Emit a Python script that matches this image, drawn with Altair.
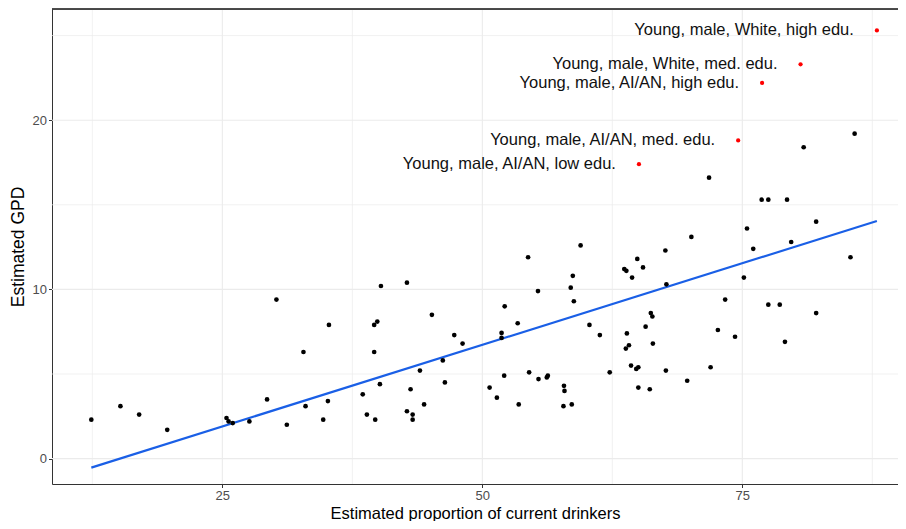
import altair as alt
import pandas as pd

# ---- data ----
black_x = [12.4, 15.2, 17.0, 19.7, 25.4, 25.6, 26.0, 27.6, 29.3, 30.2,
           31.2, 32.8, 33.0, 34.7, 35.15, 35.25, 38.5, 38.9, 39.6, 39.6,
           39.7, 39.9, 40.15, 40.25, 42.75, 42.75, 43.1, 43.3, 43.3, 44.0,
           44.4, 45.15, 46.2, 46.4, 47.3, 48.1, 50.7, 51.4, 51.85, 51.85,
           52.1, 52.15, 53.4, 53.5, 54.4, 54.5, 55.35, 55.4, 56.2, 56.3,
           57.8, 57.85, 57.9, 58.5, 58.6, 58.7, 58.8, 59.45, 60.3, 61.3,
           62.25, 63.65, 63.85, 63.9, 63.8, 64.1, 64.3, 64.4, 64.8, 65.0,
           65.0, 64.9, 65.45, 65.7, 66.1, 66.2, 66.35, 66.4, 67.6, 67.65,
           67.7, 69.7, 70.1, 71.8, 71.95, 72.65, 73.35, 74.3, 75.15, 75.45,
           76.05, 76.86, 77.5, 77.5, 78.6, 79.1, 79.3, 79.7, 80.9, 82.1,
           82.1, 85.4, 85.8]
black_y = [2.3, 3.1, 2.6, 1.7, 2.4, 2.2, 2.1, 2.2, 3.5, 9.4,
           2.0, 6.3, 3.1, 2.3, 3.4, 7.9, 3.8, 2.6, 6.3, 7.9,
           2.3, 8.1, 4.4, 10.2, 10.4, 2.8, 4.1, 2.6, 2.3, 5.2,
           3.2, 8.5, 5.8, 4.5, 7.3, 6.8, 4.2, 3.6, 7.43, 7.13,
           4.9, 9.0, 8.0, 3.2, 11.9, 5.1, 9.9, 4.7, 4.8, 4.9,
           3.1, 4.3, 4.0, 10.1, 3.2, 10.8, 9.3, 12.6, 7.9, 7.3,
           5.1, 11.2, 11.1, 7.4, 6.5, 6.7, 5.5, 10.7, 5.3, 5.4,
           4.2, 11.8, 11.3, 7.8, 4.1, 8.6, 8.4, 6.8, 12.3, 5.2,
           10.3, 4.6, 13.1, 16.6, 5.4, 7.6, 9.4, 7.2, 10.7, 13.6,
           12.4, 15.3, 15.3, 9.1, 9.1, 6.9, 15.3, 12.8, 18.4, 14.0,
           8.6, 11.9, 19.2]

red_x = [87.94, 80.6, 76.9, 74.6, 65.06]
red_y = [25.3, 23.3, 22.2, 18.8, 17.4]
red_labels = ["Young, male, White, high edu.",
              "Young, male, White, med. edu.",
              "Young, male, AI/AN, high edu.",
              "Young, male, AI/AN, med. edu.",
              "Young, male, AI/AN, low edu."]

trend_x = [12.4, 87.94]
trend_y = [-0.53, 14.04]

x_major = [25, 50, 75]
x_minor = [12.5, 37.5, 62.5, 87.5]
y_major = [0, 10, 20]
y_minor = [5, 15, 25]

x_domain = [8.62, 89.97]
y_domain = [-1.5, 26.57]

FONT = "Liberation Sans"
PLOT_W = 846
PLOT_H = 475

black_df = pd.DataFrame({"x": black_x, "y": black_y})
red_df = pd.DataFrame({"x": red_x, "y": red_y, "label": red_labels})
trend_df = pd.DataFrame({"x": trend_x, "y": trend_y})
xg_major = pd.DataFrame({"x": x_major})
xg_minor = pd.DataFrame({"x": x_minor})
yg_major = pd.DataFrame({"y": y_major})
yg_minor = pd.DataFrame({"y": y_minor})

X_TITLE = "Estimated proportion of current drinkers"
Y_TITLE = "Estimated GPD"


def xenc():
    return alt.X("x:Q", title=X_TITLE,
                 scale=alt.Scale(domain=x_domain, nice=False, zero=False),
                 axis=alt.Axis(values=x_major, grid=False, domain=True,
                               domainColor="#333333", domainWidth=1,
                               tickColor="#333333", tickSize=3.5, tickWidth=1,
                               labelColor="#4d4d4d", labelFontSize=13,
                               labelFont=FONT, labelPadding=1.5,
                               titleFont=FONT, titleFontSize=16.5,
                               titleFontWeight="normal", titleColor="#000000",
                               titleY=34.5, titleBaseline="alphabetic"))


def yenc():
    return alt.Y("y:Q", title=Y_TITLE,
                 scale=alt.Scale(domain=y_domain, nice=False, zero=False),
                 axis=alt.Axis(values=y_major, grid=False, domain=True,
                               domainColor="#333333", domainWidth=1,
                               tickColor="#333333", tickSize=3.5, tickWidth=1,
                               labelColor="#4d4d4d", labelFontSize=13,
                               labelFont=FONT, labelPadding=2,
                               titleFont=FONT, titleFontSize=17.5,
                               titleFontWeight="normal", titleColor="#000000",
                               titleX=-34, titleBaseline="middle"))


grid_minor_x = alt.Chart(xg_minor).mark_rule(color="#ebebeb", strokeWidth=0.7).encode(x=xenc())
grid_major_x = alt.Chart(xg_major).mark_rule(color="#ebebeb", strokeWidth=1.1).encode(x=xenc())
grid_minor_y = alt.Chart(yg_minor).mark_rule(color="#ebebeb", strokeWidth=0.7).encode(y=yenc())
grid_major_y = alt.Chart(yg_major).mark_rule(color="#ebebeb", strokeWidth=1.1).encode(y=yenc())

# top edge of the panel border (the right edge lies outside the picture)
top_border = alt.Chart(xg_major).mark_rule(color="#333333", strokeWidth=1).encode(
    y=alt.value(0))

points = alt.Chart(black_df).mark_circle(color="black", opacity=1, size=22).encode(
    x=xenc(), y=yenc())

trend = alt.Chart(trend_df).mark_line(color="#1a5fe6", strokeWidth=2.2).encode(
    x=xenc(), y=yenc())

red_pts = alt.Chart(red_df).mark_circle(color="#ff0000", opacity=1, size=18).encode(
    x=xenc(), y=yenc())

red_text = alt.Chart(red_df).mark_text(align="right", baseline="middle", dx=-23,
                                        font=FONT, fontSize=16.5, color="#111111").encode(
    x=xenc(), y=yenc(), text="label:N")

chart = alt.layer(
    grid_minor_x, grid_minor_y, grid_major_x, grid_major_y, top_border,
    trend, points, red_pts, red_text
).properties(
    width=PLOT_W, height=PLOT_H,
    autosize=alt.AutoSizeParams(type="none"),
    padding={"left": 44, "top": 1, "right": 0, "bottom": 37},
).configure_view(
    stroke=None
).configure(background="white")

chart.save("out.html", embed_options={"renderer": "svg", "actions": False})
